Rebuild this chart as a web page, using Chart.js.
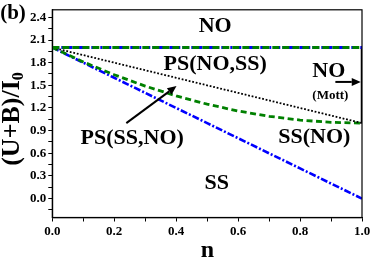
<!DOCTYPE html>
<html lang="en">
<head>
  <meta charset="UTF-8">
  <title>(U+B)/I0 vs n</title>
  <script src="https://cdn.jsdelivr.net/npm/chart.js"></script>
  <style>
    html, body { margin: 0; padding: 0; background: #fff; }
    canvas { display: block; }
  </style>
</head>
<body>
  <canvas id="chart" width="374" height="265"></canvas>

  <script>
    // n values shared by the curves
    const nValues = [0.0, 0.1, 0.2, 0.3, 0.4, 0.5, 0.6, 0.7, 0.8, 0.9, 1.0];

    // upper boundary (green dashed + blue dash-dot overlap)
    const upperGreen = [2.0, 2.0, 2.0, 2.0, 2.0, 2.0, 2.0, 2.0, 2.0, 2.0, 2.0];
    const upperBlue  = [2.0, 2.0, 2.0, 2.0, 2.0, 2.0, 2.0, 2.0, 2.0, 2.0, 2.0];
    // black dotted
    const dottedLine = [2.0, 1.9, 1.8, 1.7, 1.6, 1.5, 1.4, 1.3, 1.2, 1.1, 1.0];
    // green dashed curve
    const greenCurve = [2.0, 1.81, 1.64, 1.49, 1.36, 1.25, 1.16, 1.09, 1.04, 1.01, 1.0];
    // blue dash-dot line
    const blueLine   = [2.0, 1.8, 1.6, 1.4, 1.2, 1.0, 0.8, 0.6, 0.4, 0.2, 0.0];
    // thick black segment at n = 1
    const mottN = [1.0, 1.0];
    const mottV = [1.0, 2.0];

    // axis ticks
    const xTicks = [0.0, 0.1, 0.2, 0.3, 0.4, 0.5, 0.6, 0.7, 0.8, 0.9, 1.0];
    const xTickLabels = ['0.0', '', '0.2', '', '0.4', '', '0.6', '', '0.8', '', '1.0'];
    const yTicks = [-0.15, 0.0, 0.15, 0.3, 0.45, 0.6, 0.75, 0.9, 1.05, 1.2, 1.35, 1.5, 1.65, 1.8, 1.95, 2.1, 2.25, 2.4];
    const yTickLabels = ['', '0.0', '', '0.3', '', '0.6', '', '0.9', '', '1.2', '', '1.5', '', '1.8', '', '2.1', '', '2.4'];

    // region labels (data coordinates)
    const regionLabels = [
      { text: 'NO',        n: 0.526, v: 2.28, size: 22 },
      { text: 'PS(NO,SS)', n: 0.526, v: 1.78, size: 22 },
      { text: 'NO',        n: 0.893, v: 1.69, size: 22 },
      { text: '(Mott)',    n: 0.898, v: 1.37, size: 13 },
      { text: 'PS(SS,NO)', n: 0.258, v: 0.80, size: 22 },
      { text: 'SS(NO)',    n: 0.846, v: 0.81, size: 22 },
      { text: 'SS',        n: 0.531, v: 0.20, size: 22 }
    ];
    const arrows = [
      { from: [0.239, 1.00], to: [0.401, 1.49] },
      { from: [0.914, 1.545], to: [0.996, 1.545] }
    ];

    const serif = '"Liberation Serif", "Times New Roman", serif';

    const pts = (xs, ys) => xs.map((x, i) => ({ x, y: ys[i] }));

    const decorPlugin = {
      id: 'decor',
      afterDatasetsDraw(chart) {
        const { ctx, chartArea: a, scales } = chart;
        const sx = scales.x, sy = scales.y;
        ctx.save();

        // frame
        ctx.strokeStyle = '#000';
        ctx.lineWidth = 1.2;
        ctx.strokeRect(a.left, a.top, a.right - a.left, a.bottom - a.top);

        // arrows
        arrows.forEach(ar => {
          const x0 = sx.getPixelForValue(ar.from[0]), y0 = sy.getPixelForValue(ar.from[1]);
          const x1 = sx.getPixelForValue(ar.to[0]),   y1 = sy.getPixelForValue(ar.to[1]);
          const ang = Math.atan2(y1 - y0, x1 - x0);
          const hl = 9, hw = 4;
          const bx = x1 - hl * Math.cos(ang), by = y1 - hl * Math.sin(ang);
          ctx.lineWidth = 2;
          ctx.beginPath();
          ctx.moveTo(x0, y0);
          ctx.lineTo(bx, by);
          ctx.stroke();
          ctx.beginPath();
          ctx.moveTo(x1, y1);
          ctx.lineTo(bx + hw * Math.sin(ang), by - hw * Math.cos(ang));
          ctx.lineTo(bx - hw * Math.sin(ang), by + hw * Math.cos(ang));
          ctx.closePath();
          ctx.fillStyle = '#000';
          ctx.fill();
        });

        // region labels
        ctx.fillStyle = '#000';
        ctx.textAlign = 'center';
        ctx.textBaseline = 'middle';
        regionLabels.forEach(l => {
          ctx.font = 'bold ' + l.size + 'px ' + serif;
          ctx.fillText(l.text, sx.getPixelForValue(l.n), sy.getPixelForValue(l.v));
        });

        // panel tag
        ctx.font = 'bold 21px ' + serif;
        ctx.fillText('(b)', 13, 14);

        // x title
        ctx.font = 'bold 24px ' + serif;
        ctx.fillText('n', 207.5, 251);

        // y title with subscript
        ctx.translate(12, 119);
        ctx.rotate(-Math.PI / 2);
        ctx.textAlign = 'left';
        ctx.textBaseline = 'middle';
        ctx.font = 'bold 26px ' + serif;
        const main = '(U+B)/I';
        const w = ctx.measureText(main).width;
        ctx.font = 'bold 16px ' + serif;
        const ws = ctx.measureText('0').width;
        const start = -(w + ws) / 2;
        ctx.font = 'bold 26px ' + serif;
        ctx.fillText(main, start, 0);
        ctx.font = 'bold 16px ' + serif;
        ctx.fillText('0', start + w, 7);

        ctx.restore();
      }
    };

    const tickFont = { family: serif, size: 13, weight: 'bold' };

    // Chart.js paints dataset 0 last (on top)
    new Chart(document.getElementById('chart').getContext('2d'), {
      type: 'line',
      data: {
        datasets: [
          { data: pts(nValues, upperGreen), borderColor: '#008000', borderWidth: 3, borderDash: [7, 3] },
          { data: pts(nValues, upperBlue), borderColor: '#0000ff', borderWidth: 3, borderDash: [7, 2, 2, 2] },
          { data: pts(nValues, dottedLine), borderColor: '#000', borderWidth: 1.8, borderDash: [1.8, 1.8] },
          { data: pts(nValues, greenCurve), borderColor: '#008000', borderWidth: 2.8, borderDash: [6, 3.5] },
          { data: pts(nValues, blueLine), borderColor: '#0000ff', borderWidth: 2.6, borderDash: [7, 2, 2, 2] },
          { data: pts(mottN, mottV), borderColor: '#000', borderWidth: 2.5 }
        ]
      },
      options: {
        responsive: false,
        animation: false,
        events: [],
        layout: { padding: { left: 0, right: 12, top: 5, bottom: 0 } },
        elements: {
          point: { radius: 0 },
          line: { tension: 0, fill: false }
        },
        plugins: {
          legend: { display: false },
          tooltip: { enabled: false }
        },
        scales: {
          x: {
            type: 'linear',
            min: 0,
            max: 1,
            afterFit: s => { s.height = 47.5; },
            afterBuildTicks: s => { s.ticks = xTicks.map(v => ({ value: v })); },
            grid: { drawOnChartArea: false, color: '#000', tickLength: 4 },
            border: { color: '#000', width: 1.2 },
            ticks: {
              color: '#000',
              font: tickFont,
              padding: 2,
              maxRotation: 0,
              autoSkip: false,
              callback: (v, i) => xTickLabels[i]
            }
          },
          y: {
            type: 'linear',
            min: -0.25,
            max: 2.5,
            afterFit: s => { s.width = 52.3; },
            afterBuildTicks: s => { s.ticks = yTicks.map(v => ({ value: v })); },
            grid: { drawOnChartArea: false, color: '#000', tickLength: 4 },
            border: { color: '#000', width: 1.2 },
            ticks: {
              color: '#000',
              font: tickFont,
              padding: 2,
              autoSkip: false,
              callback: (v, i) => yTickLabels[i]
            }
          }
        }
      },
      plugins: [decorPlugin]
    });
  </script>
</body>
</html>
